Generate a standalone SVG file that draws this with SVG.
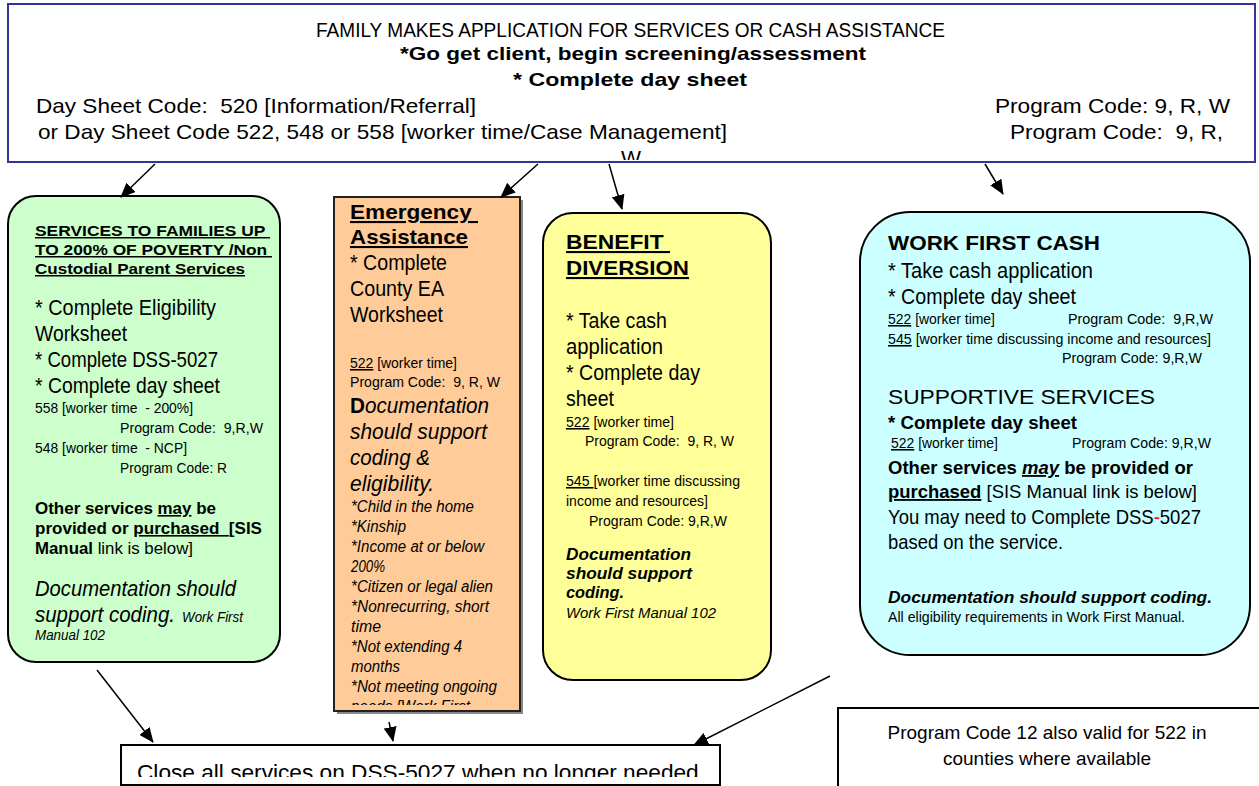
<svg xmlns="http://www.w3.org/2000/svg" width="1259" height="786" viewBox="0 0 1259 786">
<style>
text{fill:#000;}
.n{font-family:"Liberation Sans Narrow","Liberation Sans",Arial,sans-serif;}
.s{font-family:"Liberation Sans",Arial,sans-serif;}
.b{font-family:"Liberation Sans",Arial,sans-serif;font-weight:bold;}
.i{font-style:italic;}
.u{text-decoration:underline;}
.pre{white-space:pre;}
.box{stroke:#000;stroke-width:2;}
#connectors line{stroke:#000;stroke-width:1.5;marker-end:url(#ah);}
</style>
<defs>
<marker id="ah" markerUnits="userSpaceOnUse" markerWidth="15" markerHeight="13" refX="14" refY="6.5" orient="auto"><path d="M0,0 L15,6.5 L0,13 z" fill="#000"/></marker>
<clipPath id="clipTop"><rect x="8" y="4" width="1247" height="156"/></clipPath>
<clipPath id="clipEA"><rect x="334" y="197" width="186" height="508"/></clipPath>
<clipPath id="clipClose"><rect x="121" y="745" width="599" height="32"/></clipPath>
</defs>
<rect width="1259" height="786" fill="#fff"/>

<g id="top">
<rect x="8" y="4" width="1247" height="158" fill="#fff" stroke="#333399" stroke-width="2"/>
<g clip-path="url(#clipTop)">
<text class="n" x="316" y="37" font-size="20" textLength="629" lengthAdjust="spacingAndGlyphs">FAMILY MAKES APPLICATION FOR SERVICES OR CASH ASSISTANCE</text>
<text class="b" x="400" y="60" font-size="19" textLength="466" lengthAdjust="spacingAndGlyphs">*Go get client, begin screening/assessment</text>
<text class="b" x="513" y="86" font-size="19" textLength="234" lengthAdjust="spacingAndGlyphs">* Complete day sheet</text>
<text class="n pre" x="36" y="113" font-size="21" textLength="440" lengthAdjust="spacingAndGlyphs">Day Sheet Code:  520 [Information/Referral]</text>
<text class="n" x="995" y="113" font-size="21" textLength="235" lengthAdjust="spacingAndGlyphs">Program Code: 9, R, W</text>
<text class="n" x="38" y="139" font-size="21" textLength="689" lengthAdjust="spacingAndGlyphs">or Day Sheet Code 522, 548 or 558 [worker time/Case Management]</text>
<text class="n pre" x="1010" y="139" font-size="21" textLength="213" lengthAdjust="spacingAndGlyphs">Program Code:  9, R,</text>
<text class="n" x="621" y="165" font-size="21" textLength="20" lengthAdjust="spacingAndGlyphs">W</text>
</g>
</g>

<g id="services200">
<rect class="box" x="8" y="196" width="272" height="466" rx="28" fill="#ccffcc"/>
<text class="b u pre" x="35" y="236" font-size="15" textLength="235" lengthAdjust="spacingAndGlyphs">SERVICES TO FAMILIES UP </text>
<text class="b u pre" x="35" y="255" font-size="15" textLength="237" lengthAdjust="spacingAndGlyphs">TO 200% OF POVERTY /Non </text>
<text class="b u" x="35" y="274" font-size="15" textLength="210" lengthAdjust="spacingAndGlyphs">Custodial Parent Services</text>
<text class="n" x="35" y="315" font-size="22" textLength="181" lengthAdjust="spacingAndGlyphs">* Complete Eligibility</text>
<text class="n" x="35" y="341" font-size="22" textLength="92" lengthAdjust="spacingAndGlyphs">Worksheet</text>
<text class="n" x="35" y="367" font-size="22" textLength="183" lengthAdjust="spacingAndGlyphs">* Complete DSS-5027</text>
<text class="n" x="35" y="393" font-size="22" textLength="185" lengthAdjust="spacingAndGlyphs">* Complete day sheet</text>
<text class="n pre" x="35" y="413" font-size="15.5" textLength="158" lengthAdjust="spacingAndGlyphs">558 [worker time  - 200%]</text>
<text class="n pre" x="120" y="433" font-size="15.5" textLength="143" lengthAdjust="spacingAndGlyphs">Program Code:  9,R,W</text>
<text class="n pre" x="35" y="453" font-size="15.5" textLength="152" lengthAdjust="spacingAndGlyphs">548 [worker time  - NCP]</text>
<text class="n" x="120" y="473" font-size="15.5" textLength="107" lengthAdjust="spacingAndGlyphs">Program Code: R</text>
<text class="b pre" x="35" y="514" font-size="16" textLength="181" lengthAdjust="spacingAndGlyphs">Other services <tspan class="u">may</tspan> be</text>
<text class="b pre" x="35" y="534" font-size="16" textLength="227" lengthAdjust="spacingAndGlyphs">provided or <tspan class="u">purchased  </tspan>[SIS</text>
<text class="b pre" x="35" y="554" font-size="16" textLength="158" lengthAdjust="spacingAndGlyphs">Manual<tspan class="n" font-weight="normal"> link is below]</tspan></text>
<text class="n i" x="35" y="596" font-size="22" textLength="201" lengthAdjust="spacingAndGlyphs">Documentation should</text>
<text class="n i" x="35" y="622" font-size="22" textLength="140" lengthAdjust="spacingAndGlyphs">support coding.</text>
<text class="n i" x="182" y="622" font-size="15" textLength="61" lengthAdjust="spacingAndGlyphs">Work First</text>
<text class="n i" x="35" y="640" font-size="15" textLength="70" lengthAdjust="spacingAndGlyphs">Manual 102</text>
</g>

<g id="emergency">
<rect x="337" y="200" width="186" height="514" fill="#888"/>
<rect x="334" y="197" width="186" height="514" fill="#ffcc99" stroke="#222" stroke-width="2"/>
<g clip-path="url(#clipEA)">
<text class="b u pre" x="350" y="219" font-size="21" textLength="128" lengthAdjust="spacingAndGlyphs">Emergency </text>
<text class="b u" x="350" y="244" font-size="21" textLength="118" lengthAdjust="spacingAndGlyphs">Assistance</text>
<text class="n" x="350" y="270" font-size="22" textLength="97" lengthAdjust="spacingAndGlyphs">* Complete</text>
<text class="n" x="350" y="296" font-size="22" textLength="94" lengthAdjust="spacingAndGlyphs">County EA</text>
<text class="n" x="350" y="322" font-size="22" textLength="93" lengthAdjust="spacingAndGlyphs">Worksheet</text>
<text class="n" x="350" y="368" font-size="15.5" textLength="107" lengthAdjust="spacingAndGlyphs"><tspan class="u">522</tspan> [worker time]</text>
<text class="n pre" x="350" y="387" font-size="15.5" textLength="150" lengthAdjust="spacingAndGlyphs">Program Code:  9, R, W</text>
<text class="b" x="350" y="413" font-size="22" textLength="139" lengthAdjust="spacingAndGlyphs">D<tspan class="n i" font-weight="normal">ocumentation</tspan></text>
<text class="n i" x="350" y="439" font-size="22" textLength="137" lengthAdjust="spacingAndGlyphs">should support</text>
<text class="n i" x="350" y="465" font-size="22" textLength="80" lengthAdjust="spacingAndGlyphs">coding &amp;</text>
<text class="n i" x="350" y="491" font-size="22" textLength="84" lengthAdjust="spacingAndGlyphs">eligibility.</text>
<text class="n i" x="351" y="512" font-size="16" textLength="123" lengthAdjust="spacingAndGlyphs">*Child in the home</text>
<text class="n i" x="351" y="532" font-size="16" textLength="55" lengthAdjust="spacingAndGlyphs">*Kinship</text>
<text class="n i" x="351" y="552" font-size="16" textLength="133" lengthAdjust="spacingAndGlyphs">*Income at or below</text>
<text class="n i" x="351" y="572" font-size="16" textLength="34" lengthAdjust="spacingAndGlyphs">200%</text>
<text class="n i" x="351" y="592" font-size="16" textLength="142" lengthAdjust="spacingAndGlyphs">*Citizen or legal alien</text>
<text class="n i" x="351" y="612" font-size="16" textLength="138" lengthAdjust="spacingAndGlyphs">*Nonrecurring, short</text>
<text class="n i" x="351" y="632" font-size="16" textLength="30" lengthAdjust="spacingAndGlyphs">time</text>
<text class="n i" x="351" y="652" font-size="16" textLength="111" lengthAdjust="spacingAndGlyphs">*Not extending 4</text>
<text class="n i" x="351" y="672" font-size="16" textLength="49" lengthAdjust="spacingAndGlyphs">months</text>
<text class="n i" x="351" y="692" font-size="16" textLength="146" lengthAdjust="spacingAndGlyphs">*Not meeting ongoing</text>
<text class="n i" x="351" y="712" font-size="16" textLength="119" lengthAdjust="spacingAndGlyphs">needs [Work First</text>
</g>
</g>

<g id="diversion">
<rect class="box" x="543" y="213" width="228" height="467" rx="30" fill="#ffff99"/>
<text class="b u pre" x="566" y="249" font-size="21" textLength="104" lengthAdjust="spacingAndGlyphs">BENEFIT </text>
<text class="b u" x="566" y="275" font-size="21" textLength="123" lengthAdjust="spacingAndGlyphs">DIVERSION</text>
<text class="n" x="566" y="328" font-size="22" textLength="101" lengthAdjust="spacingAndGlyphs">* Take cash</text>
<text class="n" x="566" y="354" font-size="22" textLength="97" lengthAdjust="spacingAndGlyphs">application</text>
<text class="n" x="566" y="380" font-size="22" textLength="134" lengthAdjust="spacingAndGlyphs">* Complete day</text>
<text class="n" x="566" y="406" font-size="22" textLength="48" lengthAdjust="spacingAndGlyphs">sheet</text>
<text class="n" x="566" y="427" font-size="15.5" textLength="108" lengthAdjust="spacingAndGlyphs"><tspan class="u">522</tspan> [worker time]</text>
<text class="n pre" x="585" y="446" font-size="15.5" textLength="149" lengthAdjust="spacingAndGlyphs">Program Code:  9, R, W</text>
<text class="n pre" x="566" y="486" font-size="15.5" textLength="174" lengthAdjust="spacingAndGlyphs"><tspan class="u">545 </tspan>[worker time discussing</text>
<text class="n" x="566" y="506" font-size="15.5" textLength="142" lengthAdjust="spacingAndGlyphs">income and resources]</text>
<text class="n" x="589" y="526" font-size="15.5" textLength="138" lengthAdjust="spacingAndGlyphs">Program Code: 9,R,W</text>
<text class="b i" x="566" y="560" font-size="16" textLength="125" lengthAdjust="spacingAndGlyphs">Documentation</text>
<text class="b i" x="566" y="579" font-size="16" textLength="126" lengthAdjust="spacingAndGlyphs">should support</text>
<text class="b i" x="566" y="598" font-size="16" textLength="58" lengthAdjust="spacingAndGlyphs">coding.</text>
<text class="n i" x="566" y="618" font-size="15.5" textLength="150" lengthAdjust="spacingAndGlyphs">Work First Manual 102</text>
</g>

<g id="workfirst">
<rect class="box" x="860" y="212" width="390" height="443" rx="50" fill="#ccffff"/>
<text class="b" x="888" y="250" font-size="21" textLength="212" lengthAdjust="spacingAndGlyphs">WORK FIRST CASH</text>
<text class="n" x="888" y="278" font-size="22" textLength="205" lengthAdjust="spacingAndGlyphs">* Take cash application</text>
<text class="n" x="888" y="304" font-size="22" textLength="188" lengthAdjust="spacingAndGlyphs">* Complete day sheet</text>
<text class="n" x="888" y="324" font-size="15.5" textLength="107" lengthAdjust="spacingAndGlyphs"><tspan class="u">522</tspan> [worker time]</text>
<text class="n pre" x="1068" y="324" font-size="15.5" textLength="145" lengthAdjust="spacingAndGlyphs">Program Code:  9,R,W</text>
<text class="n" x="888" y="344" font-size="15.5" textLength="323" lengthAdjust="spacingAndGlyphs"><tspan class="u">545</tspan> [worker time discussing income and resources]</text>
<text class="n" x="1062" y="363" font-size="15.5" textLength="140" lengthAdjust="spacingAndGlyphs">Program Code: 9,R,W</text>
<text class="s" x="888" y="404" font-size="21" textLength="267" lengthAdjust="spacingAndGlyphs">SUPPORTIVE SERVICES</text>
<text class="b" x="888" y="429" font-size="19" textLength="189" lengthAdjust="spacingAndGlyphs">* Complete day sheet</text>
<text class="n" x="891" y="448" font-size="15.5" textLength="107" lengthAdjust="spacingAndGlyphs"><tspan class="u">522</tspan> [worker time]</text>
<text class="n" x="1072" y="448" font-size="15.5" textLength="139" lengthAdjust="spacingAndGlyphs">Program Code: 9,R,W</text>
<text class="b pre" x="888" y="474" font-size="18.5" textLength="305" lengthAdjust="spacingAndGlyphs">Other services <tspan class="i u">may</tspan> be provided or</text>
<text class="b pre" x="888" y="498" font-size="18.5" textLength="309" lengthAdjust="spacingAndGlyphs"><tspan class="u">purchased</tspan><tspan class="n" font-weight="normal"> [SIS Manual link is below]</tspan></text>
<text class="n" x="888" y="524" font-size="21" textLength="313" lengthAdjust="spacingAndGlyphs">You may need to Complete DSS<tspan style="fill:#ff0000">-</tspan>5027</text>
<text class="n" x="888" y="549" font-size="21" textLength="175" lengthAdjust="spacingAndGlyphs">based on the service.</text>
<text class="b i" x="888" y="603" font-size="16" textLength="324" lengthAdjust="spacingAndGlyphs">Documentation should support coding.</text>
<text class="n" x="888" y="622" font-size="15" textLength="297" lengthAdjust="spacingAndGlyphs">All eligibility requirements in Work First Manual.</text>
</g>

<g id="close">
<rect class="box" x="121" y="745" width="599" height="40" fill="#fff"/>
<g clip-path="url(#clipClose)">
<text class="n" x="137" y="780" font-size="22" textLength="568" lengthAdjust="spacingAndGlyphs">Close all services on DSS-5027 when no longer needed.</text>
</g>
</g>

<g id="note">
<rect class="box" x="838" y="708" width="440" height="100" fill="#fff"/>
<text class="s" x="1047" y="739" font-size="19" text-anchor="middle">Program Code 12 also valid for 522 in</text>
<text class="s" x="1047" y="765" font-size="19" text-anchor="middle">counties where available</text>
</g>

<g id="connectors">
<line x1="155" y1="164" x2="121" y2="197"/>
<line x1="538" y1="164" x2="501" y2="197"/>
<line x1="609" y1="164" x2="622" y2="209"/>
<line x1="985" y1="164" x2="1003" y2="194"/>
<line x1="97" y1="670" x2="153" y2="742"/>
<line x1="389" y1="722" x2="393" y2="741"/>
<line x1="830" y1="676" x2="694" y2="745"/>
</g>
</svg>
